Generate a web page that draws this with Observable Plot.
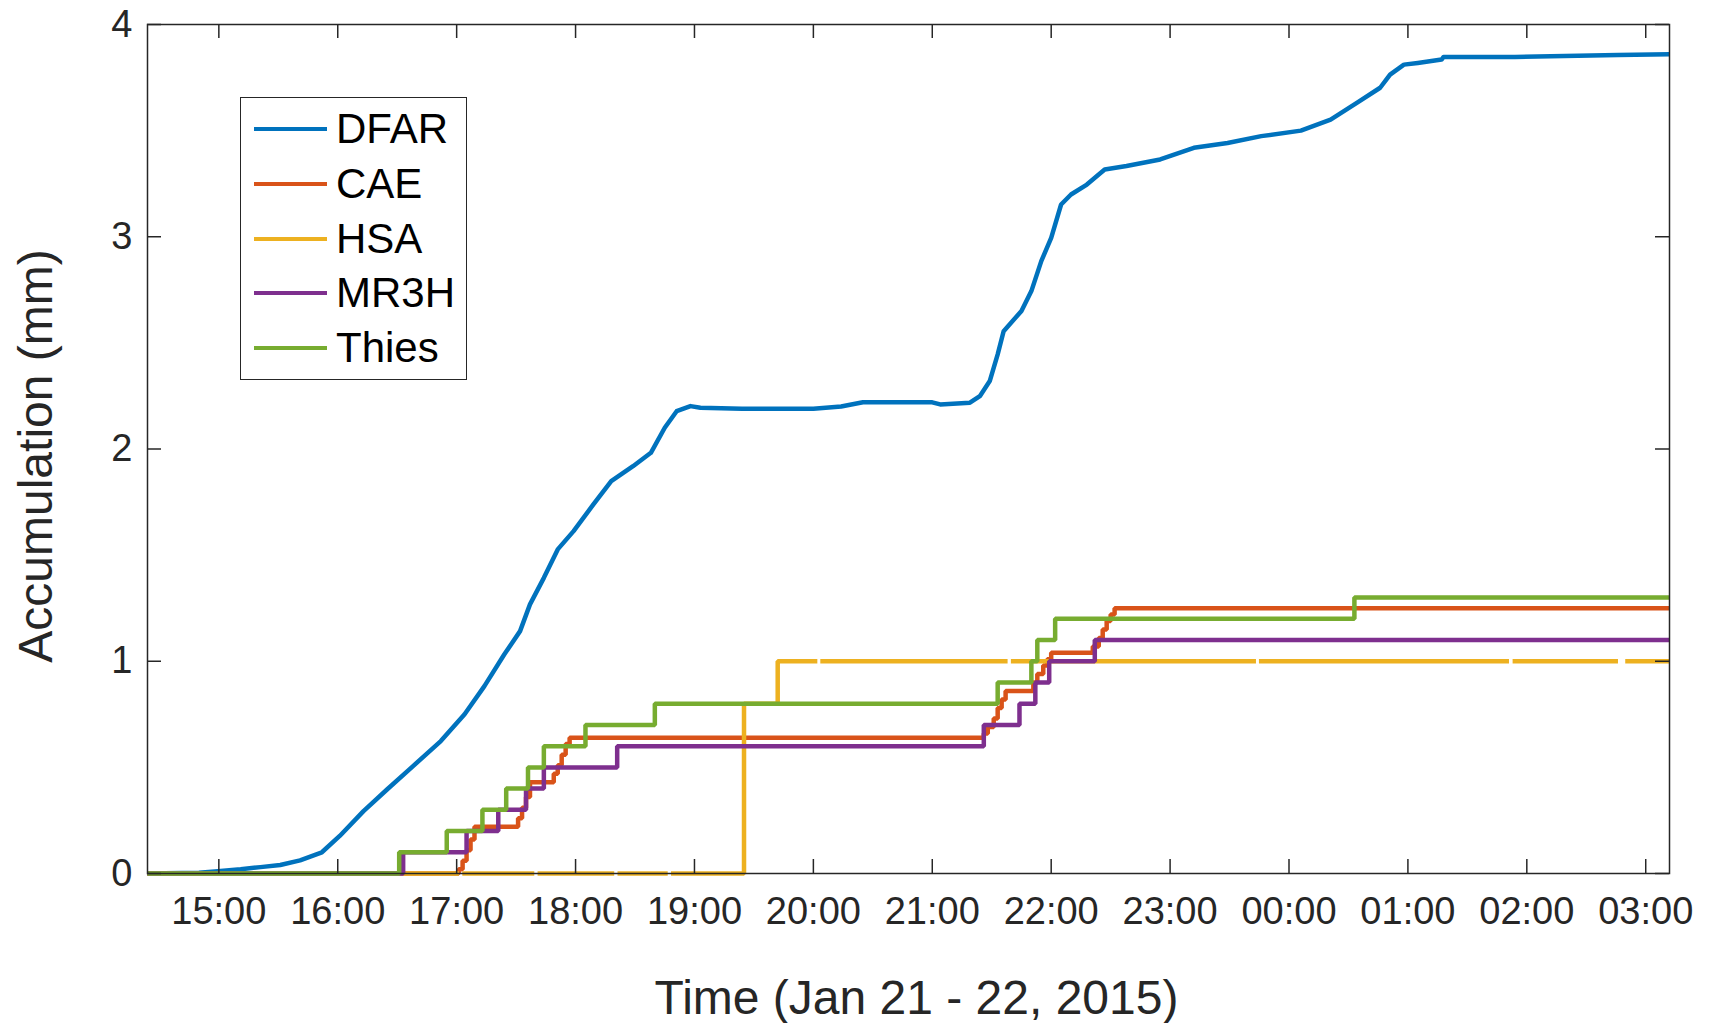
<!DOCTYPE html>
<html><head><meta charset="utf-8">
<script src="https://cdn.jsdelivr.net/npm/d3@7"></script>
<script src="https://cdn.jsdelivr.net/npm/@observablehq/plot@0.6"></script>
<style>
html,body{margin:0;padding:0;background:#fff;}
#wrap{position:relative;width:1710px;height:1023px;font-family:"Liberation Sans",Arial,sans-serif;}
#legend{position:absolute;left:240px;top:97px;width:225px;height:281px;border:1.5px solid #262626;background:#fff;}
.row{position:absolute;left:0;height:0;}
.sw{position:absolute;left:13px;width:73px;height:4px;top:-2px;}
.lab{position:absolute;left:95px;top:0;transform:translateY(-50%);font-size:42px;color:#000;line-height:1;white-space:nowrap;}
</style></head><body><div id="wrap"><div id="legend"></div></div>
<script>
// ---------- data ----------
const seriesNames = ["DFAR", "CAE", "HSA", "MR3H", "Thies"];
const seriesColors = ["#0072BD", "#D95319", "#EDB120", "#7E2F8E", "#77AC30"];

const xTickLabels = ["15:00","16:00","17:00","18:00","19:00","20:00","21:00","22:00","23:00","00:00","01:00","02:00","03:00"];
const yTicks = [0, 1, 2, 3, 4];
const xDomainLabels = ["14:24", "03:12"];

const dfarTime = ["14:24","14:50","14:58","15:11","15:21","15:31","15:41","15:52","16:01","16:13","16:25","16:38","16:52","17:04","17:14","17:24","17:32","17:37","17:44","17:51","17:59","18:09","18:18","18:29","18:38","18:45","18:51","18:58","19:03","19:24","20:00","20:14","20:25","21:00","21:04","21:19","21:24","21:29","21:33","21:36","21:45","21:50","21:55","22:00","22:05","22:10","22:18","22:27","22:38","22:55","23:12","23:29","23:46","00:06","00:21","00:35","00:46","00:51","00:58","01:05","01:17","01:18","01:54","02:46","03:12"];
const dfarValue = [0,0.003,0.01,0.02,0.03,0.04,0.062,0.10,0.177,0.294,0.397,0.506,0.624,0.75,0.883,1.032,1.142,1.268,1.393,1.527,1.613,1.739,1.849,1.919,1.982,2.10,2.178,2.202,2.194,2.19,2.19,2.20,2.22,2.22,2.21,2.218,2.249,2.32,2.446,2.555,2.65,2.744,2.885,2.995,3.152,3.199,3.246,3.317,3.333,3.364,3.419,3.442,3.474,3.50,3.552,3.635,3.702,3.764,3.811,3.819,3.835,3.847,3.847,3.856,3.86];

const caeTime = ["14:24","17:01","17:03","17:05","17:07","17:09","17:31","17:33","17:35","17:37","17:49","17:51","17:53","17:55","17:57","21:26","21:28","21:31","21:33","21:35","21:37","21:51","21:53","21:56","21:58","22:00","22:21","22:24","22:26","22:28","22:30","22:32","03:12"];
const caeValue = [0,0.02,0.06,0.11,0.16,0.22,0.26,0.31,0.36,0.43,0.47,0.51,0.56,0.61,0.64,0.66,0.69,0.73,0.78,0.82,0.86,0.90,0.94,0.98,1.01,1.04,1.07,1.11,1.15,1.19,1.22,1.25,1.25];

const hsaTime = ["14:24","17:01:10","17:01:10","17:02:50","17:39:10","17:39:10","17:40:50","18:19:30","18:19:30","18:21:10","18:46:30","18:46:30","18:48:10","19:25","19:42","20:02","20:02","20:03:30","21:38","21:38","21:39:40","23:43:20","23:43:20","23:44:50","01:51","01:51","01:52:50","02:46","02:46","02:49:40","03:12"];
const hsaValue = [0,0,null,0,0,null,0,0,null,0,0,null,0,0.8,1.0,1.0,null,1.0,1.0,null,1.0,1.0,null,1.0,1.0,null,1.0,1.0,null,1.0,1.0];

const mr3hTime = ["14:24","16:33","17:05","17:21","17:35","17:44","18:21","21:26","21:44","21:52","21:59","22:22","03:12"];
const mr3hValue = [0,0.1,0.2,0.3,0.4,0.5,0.6,0.7,0.8,0.9,1.0,1.1,1.1];

const thiesTime = ["14:24","16:31","16:55","17:13","17:25","17:36","17:44","18:05","18:40","21:33","21:50","21:53","22:02","00:33","03:12"];
const thiesValue = [0,0.1,0.2,0.3,0.4,0.5,0.6,0.7,0.8,0.9,1.0,1.1,1.2,1.3,1.3];

// ---------- build ----------
const toDate = s => { const [h, m, sec = 0] = s.split(":").map(Number); return new Date(Date.UTC(2015, 0, h < 12 ? 22 : 21, h, m, sec)); };
const mk = (name, times, values) => times.map((t, i) => ({series: name, date: toDate(t), value: values[i]}));
const seriesData = [
  mk("DFAR", dfarTime, dfarValue),
  mk("CAE", caeTime, caeValue),
  mk("HSA", hsaTime, hsaValue),
  mk("MR3H", mr3hTime, mr3hValue),
  mk("Thies", thiesTime, thiesValue)
];
const xTicks = xTickLabels.map(toDate);
const xDomain = xDomainLabels.map(toDate);

const W = 1710, H = 1023, mL = 147, mR = 41, mT = 24, mB = 150;
const pW = W - mL - mR, pH = H - mT - mB, tick = 14;
const axisColor = "#262626";

const lineMarks = seriesData.map((rows, i) => Plot.line(rows, {
  x: "date", y: "value", stroke: seriesColors[i], strokeWidth: 4.5,
  curve: i === 0 ? "linear" : "step-after",
  strokeLinecap: "butt", strokeLinejoin: i === 0 ? "round" : "miter"
}));

const chart = Plot.plot({
  width: W, height: H,
  marginLeft: mL, marginRight: mR, marginTop: mT, marginBottom: mB,
  style: {fontFamily: "'Liberation Sans', Arial, sans-serif", color: axisColor, background: "#fff"},
  x: {type: "utc", domain: xDomain},
  y: {domain: [0, 4]},
  marks: [
    Plot.axisX({ticks: xTicks, tickFormat: d3.utcFormat("%H:%M"), tickSize: 0, tickPadding: 24, fontSize: 38, label: null}),
    Plot.axisY({ticks: yTicks, tickFormat: d => String(d), tickSize: 0, tickPadding: 15, fontSize: 38, label: null}),
    ...lineMarks,
    Plot.tickX(xTicks, {x: d => d, insetTop: pH - tick, stroke: axisColor, strokeWidth: 1.5}),
    Plot.tickX(xTicks, {x: d => d, insetBottom: pH - tick, stroke: axisColor, strokeWidth: 1.5}),
    Plot.tickY(yTicks, {y: d => d, insetRight: pW - tick, stroke: axisColor, strokeWidth: 1.5}),
    Plot.tickY(yTicks, {y: d => d, insetLeft: pW - tick, stroke: axisColor, strokeWidth: 1.5}),
    Plot.frame({stroke: axisColor, strokeWidth: 1.5}),
    Plot.text(["Time (Jan 21 - 22, 2015)"], {frameAnchor: "bottom", textAnchor: "middle", lineAnchor: "top", dx: 8, dy: 106, fontSize: 48, fill: axisColor}),
    Plot.text(["Accumulation (mm)"], {frameAnchor: "left", textAnchor: "middle", lineAnchor: "middle", rotate: -90, dx: -111, dy: 7, fontSize: 48, fill: axisColor})
  ]
});
document.getElementById("wrap").prepend(chart);

// legend
const legend = d3.select("#legend");
seriesNames.forEach((name, i) => {
  const row = legend.append("div").attr("class", "row").style("top", (31 + i * 54.75) + "px");
  row.append("div").attr("class", "sw").style("background", seriesColors[i]);
  row.append("div").attr("class", "lab").text(name);
});
</script>
</body></html>
